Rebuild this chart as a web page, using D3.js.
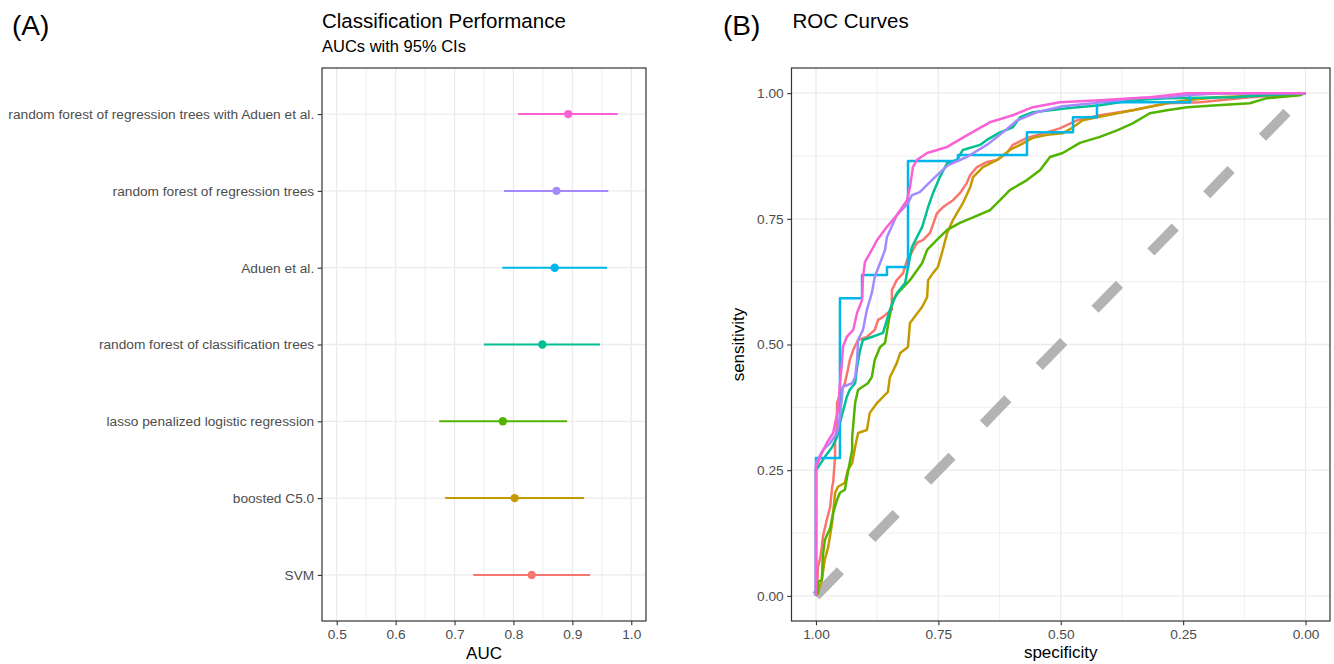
<!DOCTYPE html>
<html>
<head>
<meta charset="utf-8">
<script src="https://cdn.jsdelivr.net/npm/d3@7/dist/d3.min.js"></script>
<style>
  body { margin: 0; background: #fff; }
  svg text { font-family: "Liberation Sans", Arial, Helvetica, sans-serif; }
</style>
</head>
<body>
<div id="chart"></div>
<script>
// ---- data ----
// models, bottom to top on panel A
const models = [
  "SVM",
  "boosted C5.0",
  "lasso penalized logistic regression",
  "random forest of classification trees",
  "Aduen et al.",
  "random forest of regression trees",
  "random forest of regression trees with Aduen et al."
];
const colors = ["#F8766D", "#C49A00", "#53B400", "#00C094", "#00B6EB", "#A58AFF", "#FB61D7"];

const aucEst  = [0.831, 0.802, 0.782, 0.849, 0.870, 0.873, 0.893];
const aucLow  = [0.732, 0.684, 0.674, 0.750, 0.781, 0.784, 0.808];
const aucHigh = [0.930, 0.920, 0.891, 0.947, 0.959, 0.961, 0.977];

const aucTicks = [0.5, 0.6, 0.7, 0.8, 0.9, 1.0];
const aucMinor = [0.55, 0.65, 0.75, 0.85, 0.95];
const rocTicks = [0, 0.25, 0.5, 0.75, 1];
const rocMinor = [0.125, 0.375, 0.625, 0.875];

// ROC curves: [specificity, sensitivity]
const rocSVM = [
  [1, 0], [0.998, 0.006], [0.996, 0.058], [0.992, 0.072], [0.988, 0.097], [0.986, 0.117],
  [0.978, 0.151], [0.971, 0.177], [0.967, 0.217], [0.965, 0.225], [0.961, 0.276], [0.961, 0.304],
  [0.957, 0.344], [0.957, 0.384], [0.947, 0.410], [0.941, 0.423], [0.935, 0.449], [0.931, 0.469],
  [0.924, 0.489], [0.914, 0.509], [0.896, 0.515], [0.880, 0.529], [0.873, 0.549], [0.863, 0.555],
  [0.853, 0.563], [0.845, 0.569], [0.845, 0.608], [0.835, 0.628], [0.822, 0.642], [0.814, 0.668],
  [0.804, 0.684], [0.794, 0.702], [0.781, 0.708], [0.767, 0.722], [0.753, 0.761], [0.741, 0.773],
  [0.720, 0.787], [0.706, 0.801], [0.692, 0.821], [0.685, 0.837], [0.671, 0.853], [0.651, 0.863],
  [0.630, 0.867], [0.610, 0.881], [0.598, 0.897], [0.569, 0.911], [0.536, 0.920], [0.502, 0.930],
  [0.467, 0.946], [0.420, 0.956], [0.353, 0.966], [0.283, 0.980], [0.216, 0.982], [0.114, 0.992],
  [0.046, 0.996], [0, 1]
];
const rocC50 = [
  [1, 0], [0.996, 0.006], [0.988, 0.032], [0.982, 0.072], [0.975, 0.097], [0.967, 0.145],
  [0.961, 0.205], [0.955, 0.217], [0.941, 0.225], [0.935, 0.250], [0.926, 0.264], [0.920, 0.296],
  [0.914, 0.324], [0.896, 0.330], [0.890, 0.364], [0.875, 0.384], [0.853, 0.406], [0.849, 0.435],
  [0.835, 0.463], [0.828, 0.483], [0.812, 0.495], [0.808, 0.543], [0.783, 0.575], [0.773, 0.594],
  [0.771, 0.628], [0.761, 0.642], [0.751, 0.654], [0.741, 0.688], [0.732, 0.722], [0.720, 0.748],
  [0.700, 0.781], [0.685, 0.813], [0.679, 0.833], [0.659, 0.853], [0.630, 0.867], [0.604, 0.887],
  [0.583, 0.897], [0.557, 0.911], [0.528, 0.917], [0.496, 0.920], [0.475, 0.932], [0.455, 0.946],
  [0.426, 0.952], [0.353, 0.966], [0.283, 0.980], [0.242, 0.986], [0.181, 0.992], [0.079, 0.996],
  [0, 1]
];
const rocLasso = [
  [1, 0], [0.996, 0.006], [0.996, 0.028], [0.988, 0.032], [0.986, 0.078], [0.982, 0.111],
  [0.971, 0.135], [0.965, 0.165], [0.957, 0.191], [0.951, 0.205], [0.941, 0.211], [0.935, 0.245],
  [0.926, 0.290], [0.926, 0.316], [0.920, 0.384], [0.914, 0.410], [0.894, 0.423], [0.886, 0.435],
  [0.880, 0.469], [0.869, 0.495], [0.859, 0.503], [0.851, 0.549], [0.843, 0.588], [0.833, 0.602],
  [0.808, 0.628], [0.783, 0.662], [0.773, 0.688], [0.753, 0.708], [0.732, 0.728], [0.706, 0.742],
  [0.679, 0.753], [0.645, 0.767], [0.624, 0.787], [0.604, 0.807], [0.569, 0.827], [0.542, 0.847],
  [0.522, 0.873], [0.496, 0.881], [0.461, 0.901], [0.420, 0.913], [0.385, 0.926], [0.353, 0.940],
  [0.318, 0.960], [0.283, 0.966], [0.242, 0.972], [0.181, 0.976], [0.114, 0.980], [0.079, 0.990],
  [0.011, 0.996], [0, 1]
];
const rocRFClass = [
  [1, 0], [1, 0.250], [0.982, 0.276], [0.967, 0.296], [0.957, 0.316], [0.951, 0.344],
  [0.937, 0.396], [0.931, 0.410], [0.920, 0.423], [0.916, 0.455], [0.910, 0.489], [0.904, 0.509],
  [0.886, 0.515], [0.863, 0.523], [0.849, 0.569], [0.835, 0.602], [0.818, 0.622], [0.808, 0.674],
  [0.804, 0.694], [0.783, 0.734], [0.771, 0.773], [0.761, 0.801], [0.747, 0.833], [0.732, 0.861],
  [0.712, 0.867], [0.700, 0.887], [0.665, 0.897], [0.651, 0.907], [0.624, 0.922], [0.598, 0.932],
  [0.583, 0.952], [0.557, 0.962], [0.487, 0.970], [0.420, 0.976], [0.353, 0.986], [0.283, 0.990],
  [0.148, 0.992], [0.079, 0.996], [0, 1]
];
const rocAduen = [
  [1, 0], [1, 0.274], [0.951, 0.274], [0.951, 0.592], [0.906, 0.592], [0.906, 0.638],
  [0.855, 0.638], [0.855, 0.654], [0.812, 0.654], [0.812, 0.865], [0.710, 0.865], [0.710, 0.877],
  [0.569, 0.877], [0.569, 0.922], [0.475, 0.922], [0.475, 0.952], [0.426, 0.952], [0.426, 0.982],
  [0.236, 0.982], [0.236, 1], [0, 1]
];
const rocRFReg = [
  [1, 0], [1, 0.264], [0.986, 0.290], [0.971, 0.304], [0.957, 0.324], [0.951, 0.356],
  [0.947, 0.396], [0.945, 0.416], [0.926, 0.423], [0.920, 0.435], [0.916, 0.469], [0.914, 0.509],
  [0.904, 0.529], [0.896, 0.569], [0.886, 0.602], [0.880, 0.634], [0.869, 0.662], [0.859, 0.688],
  [0.855, 0.714], [0.835, 0.757], [0.812, 0.781], [0.804, 0.797], [0.788, 0.803], [0.757, 0.833],
  [0.730, 0.857], [0.692, 0.873], [0.651, 0.897], [0.618, 0.922], [0.589, 0.946], [0.549, 0.962],
  [0.496, 0.974], [0.434, 0.980], [0.353, 0.990], [0.283, 0.992], [0.242, 0.996], [0.175, 1],
  [0, 1]
];
const rocRFRegAduen = [
  [1, 0], [1, 0.256], [0.988, 0.284], [0.978, 0.304], [0.965, 0.324], [0.955, 0.370],
  [0.951, 0.423], [0.947, 0.463], [0.945, 0.495], [0.937, 0.515], [0.924, 0.529], [0.916, 0.563],
  [0.906, 0.588], [0.904, 0.634], [0.900, 0.664], [0.886, 0.688], [0.875, 0.708], [0.855, 0.734],
  [0.835, 0.757], [0.814, 0.787], [0.808, 0.813], [0.802, 0.853], [0.794, 0.867], [0.773, 0.881],
  [0.732, 0.893], [0.692, 0.916], [0.645, 0.942], [0.598, 0.956], [0.557, 0.972], [0.502, 0.982],
  [0.420, 0.986], [0.318, 0.992], [0.242, 1], [0, 1]
];
// same order as models
const rocCurves = [rocSVM, rocC50, rocLasso, rocRFClass, rocAduen, rocRFReg, rocRFRegAduen];

// ---- layout ----
const width = 1334, height = 664;
const pA = { left: 322, right: 646, top: 68, bottom: 621 };
const pB = { left: 791.5, right: 1330, top: 68, bottom: 621 };
const gridCol = "#EBEBEB", borderCol = "#333333", textCol = "#4D4D4D";
const tickFont = "13.7px", titleFont = "17px";

const svg = d3.select("#chart").append("svg")
  .attr("width", width)
  .attr("height", height)
  .style("display", "block");

svg.append("rect").attr("width", width).attr("height", height).attr("fill", "#fff");

// ============ PANEL A ============
const xA = d3.scaleLinear().domain([0.475, 1.025]).range([pA.left, pA.right]);
const yA = d3.scalePoint().domain(models).range([pA.bottom, pA.top]).padding(0.6);

const gA = svg.append("g");

// grid
gA.selectAll(".minorA").data(aucMinor).join("line")
  .attr("x1", d => xA(d)).attr("x2", d => xA(d))
  .attr("y1", pA.top).attr("y2", pA.bottom)
  .attr("stroke", gridCol).attr("stroke-width", 0.8);
gA.selectAll(".majorA").data(aucTicks).join("line")
  .attr("x1", d => xA(d)).attr("x2", d => xA(d))
  .attr("y1", pA.top).attr("y2", pA.bottom)
  .attr("stroke", gridCol).attr("stroke-width", 1.3);
gA.selectAll(".rowA").data(models).join("line")
  .attr("x1", pA.left).attr("x2", pA.right)
  .attr("y1", d => yA(d)).attr("y2", d => yA(d))
  .attr("stroke", gridCol).attr("stroke-width", 1.3);

// CIs + points
gA.selectAll(".ci").data(models).join("line")
  .attr("x1", (d, i) => xA(aucLow[i])).attr("x2", (d, i) => xA(aucHigh[i]))
  .attr("y1", d => yA(d)).attr("y2", d => yA(d))
  .attr("stroke", (d, i) => colors[i]).attr("stroke-width", 2);
gA.selectAll(".pt").data(models).join("circle")
  .attr("cx", (d, i) => xA(aucEst[i])).attr("cy", d => yA(d))
  .attr("r", 4.2).attr("fill", (d, i) => colors[i]);

// border
gA.append("rect")
  .attr("x", pA.left).attr("y", pA.top)
  .attr("width", pA.right - pA.left).attr("height", pA.bottom - pA.top)
  .attr("fill", "none").attr("stroke", borderCol).attr("stroke-width", 1.2);

// axes
function styleAxis(sel) {
  sel.select(".domain").remove();
  sel.selectAll(".tick line").attr("stroke", borderCol).attr("stroke-width", 1.1);
  sel.selectAll(".tick text").attr("fill", textCol).style("font-size", tickFont)
    .style("font-family", "'Liberation Sans', Arial, sans-serif");
}

gA.append("g")
  .attr("transform", `translate(0,${pA.bottom})`)
  .call(d3.axisBottom(xA).tickValues(aucTicks).tickFormat(d3.format(".1f")).tickSize(4.3).tickPadding(4))
  .call(styleAxis);

gA.append("g")
  .attr("transform", `translate(${pA.left},0)`)
  .call(d3.axisLeft(yA).tickSize(4.3).tickPadding(3.5))
  .call(styleAxis);

gA.append("text")
  .attr("x", (pA.left + pA.right) / 2).attr("y", 659)
  .attr("text-anchor", "middle").style("font-size", titleFont)
  .text("AUC");

// titles
svg.append("text").attr("x", 12).attr("y", 35).style("font-size", "28px").text("(A)");
svg.append("text").attr("x", pA.left).attr("y", 28).style("font-size", "20.5px")
  .text("Classification Performance");
svg.append("text").attr("x", pA.left).attr("y", 52).style("font-size", "16.5px")
  .text("AUCs with 95% CIs");

// ============ PANEL B ============
const xB = d3.scaleLinear().domain([1.05, -0.05]).range([pB.left, pB.right]);
const yB = d3.scaleLinear().domain([-0.05, 1.05]).range([pB.bottom, pB.top]);

const gB = svg.append("g");

gB.selectAll(".minorBx").data(rocMinor).join("line")
  .attr("x1", d => xB(d)).attr("x2", d => xB(d))
  .attr("y1", pB.top).attr("y2", pB.bottom)
  .attr("stroke", gridCol).attr("stroke-width", 0.8);
gB.selectAll(".minorBy").data(rocMinor).join("line")
  .attr("x1", pB.left).attr("x2", pB.right)
  .attr("y1", d => yB(d)).attr("y2", d => yB(d))
  .attr("stroke", gridCol).attr("stroke-width", 0.8);
gB.selectAll(".majorBx").data(rocTicks).join("line")
  .attr("x1", d => xB(d)).attr("x2", d => xB(d))
  .attr("y1", pB.top).attr("y2", pB.bottom)
  .attr("stroke", gridCol).attr("stroke-width", 1.3);
gB.selectAll(".majorBy").data(rocTicks).join("line")
  .attr("x1", pB.left).attr("x2", pB.right)
  .attr("y1", d => yB(d)).attr("y2", d => yB(d))
  .attr("stroke", gridCol).attr("stroke-width", 1.3);

// chance line
gB.append("line")
  .attr("x1", xB(1)).attr("y1", yB(0))
  .attr("x2", xB(0)).attr("y2", yB(1))
  .attr("stroke", "#B3B3B3").attr("stroke-width", 10)
  .attr("stroke-dasharray", "35,45").attr("stroke-linecap", "butt");

// ROC curves
const rocLine = d3.line().x(d => xB(d[0])).y(d => yB(d[1]));
gB.selectAll(".roc").data(rocCurves).join("path")
  .attr("d", rocLine)
  .attr("fill", "none")
  .attr("stroke", (d, i) => colors[i])
  .attr("stroke-width", 2.5)
  .attr("stroke-linejoin", "round");

gB.append("rect")
  .attr("x", pB.left).attr("y", pB.top)
  .attr("width", pB.right - pB.left).attr("height", pB.bottom - pB.top)
  .attr("fill", "none").attr("stroke", borderCol).attr("stroke-width", 1.2);

gB.append("g")
  .attr("transform", `translate(0,${pB.bottom})`)
  .call(d3.axisBottom(xB).tickValues(rocTicks).tickFormat(d3.format(".2f")).tickSize(4.3).tickPadding(4))
  .call(styleAxis);

gB.append("g")
  .attr("transform", `translate(${pB.left},0)`)
  .call(d3.axisLeft(yB).tickValues(rocTicks).tickFormat(d3.format(".2f")).tickSize(4.3).tickPadding(3.5))
  .call(styleAxis);

gB.append("text")
  .attr("x", (pB.left + pB.right) / 2).attr("y", 658)
  .attr("text-anchor", "middle").style("font-size", titleFont)
  .text("specificity");

gB.append("text")
  .attr("transform", `translate(744,${(pB.top + pB.bottom) / 2}) rotate(-90)`)
  .attr("text-anchor", "middle").style("font-size", titleFont)
  .text("sensitivity");

svg.append("text").attr("x", 723).attr("y", 35).style("font-size", "28px").text("(B)");
svg.append("text").attr("x", pB.left + 1).attr("y", 28).style("font-size", "20.5px")
  .text("ROC Curves");
</script>
</body>
</html>
